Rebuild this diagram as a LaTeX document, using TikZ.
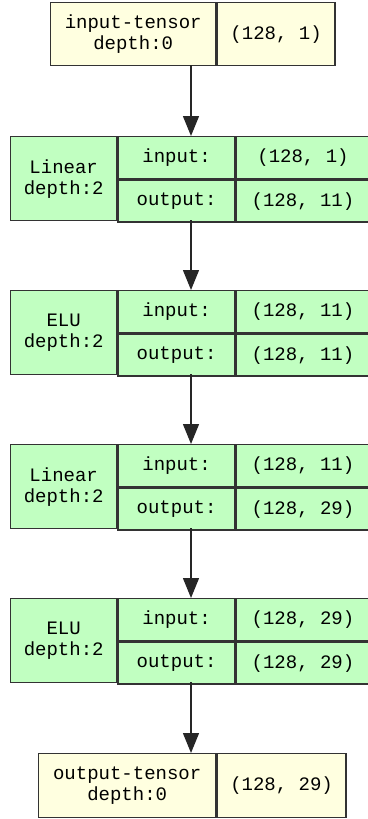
\documentclass[tikz,border=0pt]{standalone}
\usepackage{fontspec}
\setmonofont{Liberation Mono}
\usetikzlibrary{arrows.meta}
\definecolor{tensorfill}{HTML}{FFFFE0}
\definecolor{modfill}{HTML}{C1FFC1}
\tikzset{
  cell/.style={draw=black!80, line width=1.4pt, inner sep=0pt, align=center,
    anchor=north west, font=\ttfamily\fontsize{19}{21}\selectfont},
  tensor/.style={cell, fill=tensorfill},
  module/.style={cell, fill=modfill},
  link/.style={draw=black!85, line width=1.4pt, -{Triangle[length=20pt,width=16pt]}}
}
\begin{document}
\begin{tikzpicture}[x=1pt,y=-1pt]
  \useasboundingbox (0,0) rectangle (367,819);
  % tensor de entrada
  \node[tensor, minimum width=165pt, minimum height=63pt] (in-name) at (50,2) {input-tensor\\depth:0};
  \node[tensor, minimum width=118pt, minimum height=63pt] (in-val) at (in-name.north east) {(128, 1)};
  \coordinate (in-bot) at (191,65);
  % camadas
  \foreach \name/\inp/\outp [count=\k] in {Linear/{(128, 1)}/{(128, 11)}, ELU/{(128, 11)}/{(128, 11)},
      Linear/{(128, 11)}/{(128, 29)}, ELU/{(128, 29)}/{(128, 29)}}{
    \pgfmathsetmacro\ytop{136+154*(\k-1)}
    \node[module, minimum width=106pt, minimum height=84pt] (m\k-name) at (10,\ytop) {\name\\depth:2};
    \node[module, minimum width=117pt, minimum height=42pt] (m\k-in) at (m\k-name.north east) {input:};
    \node[module, minimum width=117pt, minimum height=42pt] (m\k-out) at (m\k-in.south west) {output:};
    \node[module, minimum width=133pt, minimum height=42pt] (m\k-inval) at (m\k-in.north east) {\inp};
    \node[module, minimum width=133pt, minimum height=42pt] (m\k-outval) at (m\k-out.north east) {\outp};
    \coordinate (m\k-top) at (191,\ytop);
    \coordinate (m\k-bot) at (191,\ytop+84);
  }
  % tensor de saida
  \node[tensor, minimum width=177pt, minimum height=64pt] (out-name) at (38,753) {output-tensor\\depth:0};
  \node[tensor, minimum width=129pt, minimum height=64pt] (out-val) at (out-name.north east) {(128, 29)};
  \coordinate (out-top) at (191,753);
  % setas
  \draw[link] (in-bot) -- (m1-top);
  \foreach \k [evaluate=\k as \n using int(\k+1)] in {1,2,3}
    \draw[link] (m\k-bot) -- (m\n-top);
  \draw[link] (m4-bot) -- (out-top);
\end{tikzpicture}
\end{document}
